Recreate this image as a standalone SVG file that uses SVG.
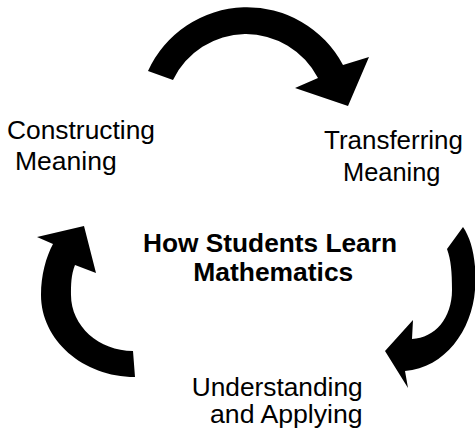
<svg xmlns="http://www.w3.org/2000/svg" width="475" height="433" viewBox="0 0 475 433">
<style>
.lbl{font-family:"Liberation Sans",Arial,sans-serif;font-size:25px;fill:#000}
.title{font-family:"Liberation Sans",Arial,sans-serif;font-size:25px;font-weight:bold;fill:#000}
.arrow{fill:#000;stroke:none}
</style>
<rect width="475" height="433" fill="#fff"/>
<g id="connectors">
<path class="arrow" d="M148,71 A108.7,108.7 0 0 1 343,65 L369,57 L348,106 L295,88 L318,78 A81,81 0 0 0 173,80 Z"/>
<path class="arrow" d="M463,227 C472,240 477,262 475,290 C472,330 445,368 405,371 L408,388 L385,351 L413,320 L412,339 C435,338 452,318 452,290 C452,272 451,260 447,249 Z"/>
<path class="arrow" d="M135,377 C83,377 41,340 41,295 C41,275 46,257 53,244 L37,237 L84,226 L96,273 L75,265 C71,275 71,285 71,295 C71,326 99,351 133,351 Z"/>
</g>
<g id="constructing">
<text class="lbl" x="7" y="139" textLength="148" lengthAdjust="spacingAndGlyphs">Constructing</text>
<text class="lbl" x="15" y="170" textLength="101.7" lengthAdjust="spacingAndGlyphs">Meaning</text>
</g>
<g id="transferring">
<text class="lbl" x="324" y="149" textLength="139" lengthAdjust="spacingAndGlyphs">Transferring</text>
<text class="lbl" x="343" y="181" textLength="97.4" lengthAdjust="spacingAndGlyphs">Meaning</text>
</g>
<g id="understanding">
<text class="lbl" x="191.7" y="395.5" textLength="171" lengthAdjust="spacingAndGlyphs">Understanding</text>
<text class="lbl" x="210" y="422.5" textLength="152.7" lengthAdjust="spacingAndGlyphs">and Applying</text>
</g>
<g id="title">
<text class="title" x="143" y="251.5" textLength="254" lengthAdjust="spacingAndGlyphs">How Students Learn</text>
<text class="title" x="193.3" y="280.5" textLength="160" lengthAdjust="spacingAndGlyphs">Mathematics</text>
</g>
</svg>
